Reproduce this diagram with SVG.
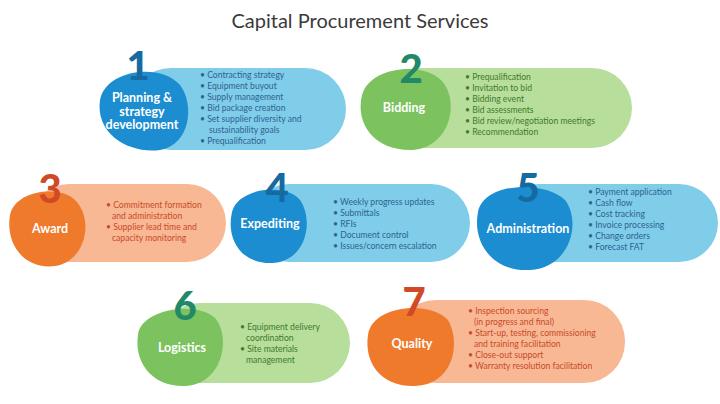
<svg xmlns="http://www.w3.org/2000/svg" width="720" height="404" viewBox="0 0 720 404">
<style>
text{font-family:"Lato","Open Sans",sans-serif}
.t{font-size:20px;fill:#3a3a3a}
.pb{fill:#80cdea}.bb{fill:#1b8dd0}.nb{fill:#176a9f}.lb{fill:#2e6290}
.pg{fill:#b8de9c}.bg{fill:#7cc35f}.ng{fill:#218868}.lg{fill:#3f7a2c}
.po{fill:#f9b894}.bo{fill:#f07a2c}.no{fill:#d14a28}.lo{fill:#c84a2a}
.num{font-size:40px;font-weight:900;text-anchor:middle}
.h{font-size:12.5px;font-weight:700;fill:#fff;text-anchor:middle}
.l{font-size:8.6px}
</style>
<rect width="720" height="404" fill="#fff"/>
<text class="t" x="360" y="28" text-anchor="middle">Capital Procurement Services</text>
<g id="n1">
<rect class="pb" x="130" y="68" width="216" height="82" rx="41"/>
<path class="bb" d="M100 100 C105 70 160 62 180 85 C195 105 190 145 160 150 C130 154 95 135 100 100Z"/>
<text class="num nb" x="138" y="80">1</text>
<text class="h" x="142" y="102">Planning &amp;<tspan x="142" dy="13.5">strategy</tspan><tspan x="142" dy="13.5">development</tspan></text>
<text class="l lb" x="200" y="78">• Contracting strategy<tspan x="200" dy="11">• Equipment buyout</tspan><tspan x="200" dy="11">• Supply management</tspan><tspan x="200" dy="11">• Bid package creation</tspan><tspan x="200" dy="11">• Set supplier diversity and</tspan><tspan x="209" dy="11">sustainability goals</tspan><tspan x="200" dy="11">• Prequalification</tspan></text>
</g>
<g id="n2">
<rect class="pg" x="380" y="68" width="252" height="80" rx="40"/>
<path class="bg" d="M362 95 C370 65 430 60 445 85 C460 110 445 150 410 150 C375 150 355 125 362 95Z"/>
<text class="num ng" x="411" y="83">2</text>
<text class="h" x="404" y="112">Bidding</text>
<text class="l lg" x="465" y="80">• Prequalification<tspan x="465" dy="11">• Invitation to bid</tspan><tspan x="465" dy="11">• Bidding event</tspan><tspan x="465" dy="11">• Bid assessments</tspan><tspan x="465" dy="11">• Bid review/negotiation meetings</tspan><tspan x="465" dy="11">• Recommendation</tspan></text>
</g>
<g id="n3">
<rect class="po" x="30" y="184" width="196" height="78" rx="39"/>
<path class="bo" d="M10 215 C15 190 60 185 75 200 C95 220 85 262 55 266 C25 270 5 245 10 215Z"/>
<text class="num no" x="50" y="203">3</text>
<text class="h" x="50" y="233">Award</text>
<text class="l lo" x="106" y="208">• Commitment formation<tspan x="112" dy="11">and administration</tspan><tspan x="106" dy="11">• Supplier lead time and</tspan><tspan x="112" dy="11">capacity monitoring</tspan></text>
</g>
<g id="n4">
<rect class="pb" x="250" y="184" width="220" height="78" rx="39"/>
<path class="bb" d="M232 212 C238 188 285 182 300 200 C315 222 305 262 272 263 C240 264 226 238 232 212Z"/>
<text class="num nb" x="277" y="202">4</text>
<text class="h" x="270" y="228">Expediting</text>
<text class="l lb" x="333" y="205">• Weekly progress updates<tspan x="333" dy="11">• Submittals</tspan><tspan x="333" dy="11">• RFIs</tspan><tspan x="333" dy="11">• Document control</tspan><tspan x="333" dy="11">• Issues/concern escalation</tspan></text>
</g>
<g id="n5">
<rect class="pb" x="500" y="184" width="218" height="78" rx="39"/>
<path class="bb" d="M478 212 C484 182 545 180 565 200 C582 222 570 268 530 270 C492 272 472 242 478 212Z"/>
<text class="num nb" x="528" y="202">5</text>
<text class="h" x="528" y="233">Administration</text>
<text class="l lb" x="588" y="195">• Payment application<tspan x="588" dy="11">• Cash flow</tspan><tspan x="588" dy="11">• Cost tracking</tspan><tspan x="588" dy="11">• Invoice processing</tspan><tspan x="588" dy="11">• Change orders</tspan><tspan x="588" dy="11">• Forecast FAT</tspan></text>
</g>
<g id="n6">
<rect class="pg" x="160" y="303" width="190" height="80" rx="40"/>
<path class="bg" d="M138 335 C140 310 195 300 215 318 C232 338 222 385 185 386 C150 387 134 360 138 335Z"/>
<text class="num ng" x="185" y="320">6</text>
<text class="h" x="182" y="352">Logistics</text>
<text class="l lg" x="240" y="330">• Equipment delivery<tspan x="246" dy="11">coordination</tspan><tspan x="240" dy="11">• Site materials</tspan><tspan x="246" dy="11">management</tspan></text>
</g>
<g id="n7">
<rect class="po" x="395" y="300" width="230" height="83" rx="41"/>
<path class="bo" d="M368 335 C372 305 430 300 448 320 C462 345 452 385 415 386 C380 387 364 362 368 335Z"/>
<text class="num no" x="414" y="316">7</text>
<text class="h" x="412" y="348">Quality</text>
<text class="l lo" x="468" y="314">• Inspection sourcing<tspan x="474" dy="11">(in progress and final)</tspan><tspan x="468" dy="11">• Start-up, testing, commissioning</tspan><tspan x="474" dy="11">and training facilitation</tspan><tspan x="468" dy="11">• Close-out support</tspan><tspan x="468" dy="11">• Warranty resolution facilitation</tspan></text>
</g>
<g id="connectors"/>
</svg>
